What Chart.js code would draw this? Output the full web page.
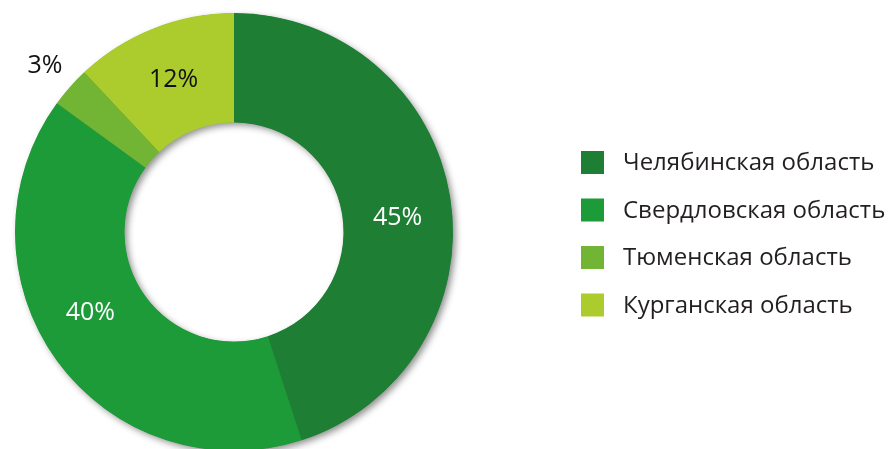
<!DOCTYPE html>
<html>
<head>
<meta charset="utf-8">
<script src="https://cdn.jsdelivr.net/npm/chart.js@4/dist/chart.umd.min.js"></script>
<style>
  html, body { margin: 0; padding: 0; background: #ffffff; overflow: hidden; }
  #wrap { width: 888px; height: 449px; overflow: hidden; position: relative; }
  canvas { display: block; }
</style>
</head>
<body>
<div id="wrap"><canvas id="c" width="888" height="460"></canvas></div>
<script>
// ---- data ----
const categories = ["Челябинская область", "Свердловская область", "Тюменская область", "Курганская область"];
const shares = [45, 40, 3, 12];
const valueLabels = ["45%", "40%", "3%", "12%"];

// ---- styling ----
const colors = ["#1e7e33", "#1d9b39", "#72b534", "#accb2c"];
const labelColors = ["#ffffff", "#ffffff", "#111111", "#111111"];
const labelInside = [true, true, false, true];
const labelAngleFrac = [0.523, 0.549, 0.5, 0.5];
const FONT = "'Open Sans', 'Noto Sans', sans-serif";

const shadowPlugin = {
  id: 'ringShadow',
  beforeDatasetsDraw(chart) {
    const meta = chart.getDatasetMeta(0);
    const a = meta.data[0];
    if (!a) return;
    const ctx = chart.ctx;
    ctx.save();
    ctx.shadowColor = 'rgba(0,0,0,0.45)';
    ctx.shadowBlur = 7;
    ctx.shadowOffsetX = 3;
    ctx.shadowOffsetY = 3;
    ctx.beginPath();
    ctx.arc(a.x, a.y, a.outerRadius - 0.5, 0, Math.PI * 2);
    ctx.moveTo(a.x + a.innerRadius + 0.5, a.y);
    ctx.arc(a.x, a.y, a.innerRadius + 0.5, 0, Math.PI * 2, true);
    ctx.fillStyle = colors[0];
    ctx.fill('evenodd');
    ctx.restore();
  }
};

const labelPlugin = {
  id: 'sliceLabels',
  afterDatasetsDraw(chart) {
    const meta = chart.getDatasetMeta(0);
    const ctx = chart.ctx;
    ctx.save();
    ctx.font = "25px " + FONT;
    ctx.textAlign = 'center';
    ctx.textBaseline = 'middle';
    meta.data.forEach((a, i) => {
      const ang = a.startAngle + (a.endAngle - a.startAngle) * labelAngleFrac[i];
      const r = labelInside[i] ? (a.innerRadius + a.outerRadius) / 2 : a.outerRadius + 33;
      ctx.fillStyle = labelColors[i];
      ctx.fillText(valueLabels[i], a.x + Math.cos(ang) * r, a.y + Math.sin(ang) * r + 1);
    });
    ctx.restore();
  }
};

const legendPlugin = {
  id: 'sideLegend',
  afterDraw(chart) {
    const ctx = chart.ctx;
    ctx.save();
    ctx.font = "24px " + FONT;
    ctx.textAlign = 'left';
    ctx.textBaseline = 'middle';
    const x0 = 581, y0 = 162.5, step = 47.5, box = 23;
    categories.forEach((name, i) => {
      const cy = y0 + i * step;
      ctx.fillStyle = colors[i];
      ctx.fillRect(x0, cy - box / 2, box, box);
      ctx.fillStyle = '#231f20';
      ctx.fillText(name, 623, cy + 1);
    });
    ctx.restore();
  }
};

new Chart(document.getElementById('c'), {
  type: 'doughnut',
  data: {
    labels: categories,
    datasets: [{
      data: shares,
      backgroundColor: colors,
      borderWidth: 0,
      hoverOffset: 0,
      offset: 0
    }]
  },
  options: {
    responsive: false,
    animation: false,
    cutout: '50%',
    layout: { padding: { left: 15, top: 13, right: 435, bottom: 9 } },
    plugins: {
      legend: { display: false },
      tooltip: { enabled: false }
    },
    events: []
  },
  plugins: [shadowPlugin, labelPlugin, legendPlugin]
});
</script>
</body>
</html>
